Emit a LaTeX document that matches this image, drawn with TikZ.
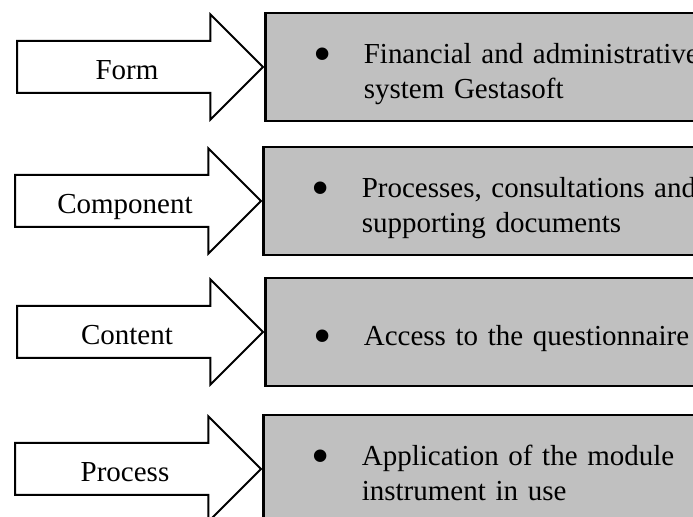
\documentclass[tikz,border=0pt]{standalone}
\usepackage{fontspec}
\setmainfont{Liberation Serif}
\usetikzlibrary{shapes.arrows}
\definecolor{boxgray}{RGB}{192,192,192}
\newcommand{\bulletline}[1]{\raisebox{-3.5pt}[\height][\depth]{\makebox[25pt][l]{\raisebox{-4pt}{\scalebox{1.8}{\textbullet}}}\begin{tabular}[t]{@{}l@{}}#1\end{tabular}}}
\tikzset{
  flowarrow/.style={single arrow, draw, line width=1pt, fill=white,
    minimum height=123pt, single arrow head extend=13.25pt,
    inner xsep=2pt, inner ysep=6pt, text height=13pt, text depth=0pt,
    font=\fontsize{14.5}{17.5}\selectfont},
  infobox/.style={draw, fill=boxgray, line width=1.4pt, anchor=west,
    minimum height=54pt, text width=200pt, align=left, inner xsep=24pt,
    font=\fontsize{14.5}{17.5}\selectfont}
}
\begin{document}
\begin{tikzpicture}[x=0.5pt,y=-0.5pt]
\useasboundingbox (0,0) rectangle (693,517);
\clip (0,0) rectangle (693,517);
\node[flowarrow] (form) at (127,67) {Form};
\node[infobox] (formbox) at (form.tip) {\bulletline{Financial and administrative\\system Gestasoft}};
\node[flowarrow] (component) at (125,201) {Component};
\node[infobox] (componentbox) at (component.tip) {\bulletline{Processes, consultations and\\supporting documents}};
\node[flowarrow] (content) at (127,332) {Content};
\node[infobox] (contentbox) at (content.tip) {\bulletline{Access to the questionnaire}};
\node[flowarrow] (process) at (125,469) {Process};
\node[infobox] (processbox) at (process.tip) {\bulletline{Application of the module\\instrument in use}};
\end{tikzpicture}
\end{document}
